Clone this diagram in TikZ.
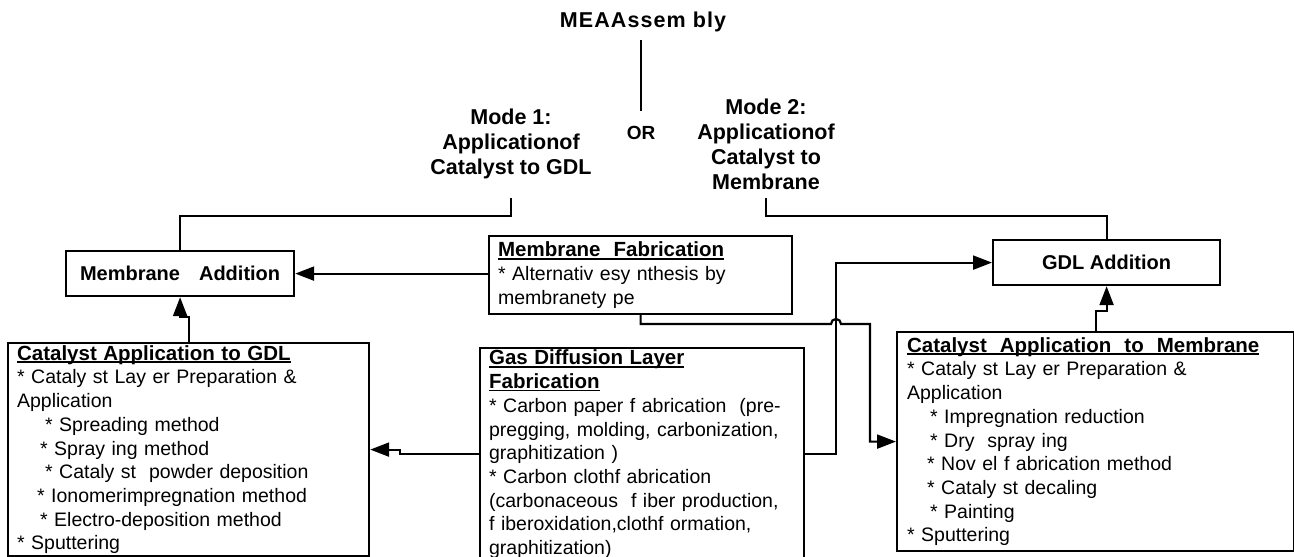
\documentclass[tikz,border=0pt]{standalone}
\usepackage{fontspec}
\setmainfont{Liberation Sans}
\usetikzlibrary{arrows.meta}
\newcommand{\lineitem}[1]{\mbox{#1}}
\newcommand{\ulin}[1]{\setbox0\hbox{#1}\rlap{\rule[-2.8pt]{\wd0}{1.6pt}}\box0}
\newcommand{\ttl}[1]{{\fontsize{20.5}{23.7}\selectfont\bfseries\ulin{#1}}}
\begin{document}
\begin{tikzpicture}[x=1pt,y=-1pt,
  box/.style={draw, line width=2.2pt, anchor=north west, align=left, inner xsep=9pt, inner ysep=2pt, font=\fontsize{19.5}{23.7}\selectfont},
  smallbox/.style={draw, line width=2.2pt, anchor=north west, font=\bfseries\fontsize{20}{24}\selectfont, inner sep=0pt},
  lbl/.style={align=center, inner sep=2pt, font=\bfseries\fontsize{21.5}{25}\selectfont},
  conn/.style={line width=2.2pt},
  arr/.style={conn, -{Triangle[length=19pt,width=14pt]}}]
\useasboundingbox (0,0) rectangle (1294,557);
\fill[white] (0,0) rectangle (1294,557);

% labels
\node[lbl, font=\bfseries\fontsize{21.5}{25}\selectfont\addfontfeatures{LetterSpace=5}] (mea) at (643,22) {MEAAssem bly};
\node[lbl, font=\bfseries\fontsize{19}{23}\selectfont] (or) at (641,133) {OR};
\node[lbl] (m1) at (511,144) {Mode 1:\\Applicationof\\Catalyst to GDL};
\node[lbl] (m2) at (766,144) {Mode 2:\\Applicationof\\Catalyst to\\Membrane};

% small boxes
\node[smallbox, minimum width=228pt, minimum height=45pt] (madd) at (65,250) {Membrane\hspace{19pt}Addition};
\node[smallbox, minimum width=227pt, minimum height=45pt] (gadd) at (992,239) {GDL Addition};

% text boxes
\node[box, text width=285pt, minimum height=78pt] (mfab) at (488,235) {%
\lineitem{\ttl{Membrane\ \ Fabrication}}\\
\lineitem{* Alternativ esy nthesis by}\\
\lineitem{membranety pe}};

\node[box, text width=306pt] (gfab) at (479,347) {%
\lineitem{\ttl{Gas Diffusion Layer}}\\
\lineitem{\ttl{Fabrication}}\\
\lineitem{* Carbon paper f abrication\ \ (pre-}\\
\lineitem{pregging, molding, carbonization,}\\
\lineitem{graphitization )}\\
\lineitem{* Carbon clothf abrication}\\
\lineitem{(carbonaceous\ \ f iber production,}\\
\lineitem{f iberoxidation,clothf ormation,}\\
\lineitem{graphitization)}};

\node[box, text width=343pt, minimum height=213pt] (cgdl) at (7,342) {%
\lineitem{\ttl{Catalyst Application to GDL}}\\
\lineitem{* Cataly st Lay er Preparation \&}\\
\lineitem{Application}\\
\lineitem{\hspace*{28pt}* Spreading method}\\
\lineitem{\hspace*{23pt}* Spray ing method}\\
\lineitem{\hspace*{28pt}* Cataly st\ \ powder deposition}\\
\lineitem{\hspace*{20pt}* Ionomerimpregnation method}\\
\lineitem{\hspace*{23pt}* Electro-deposition method}\\
\lineitem{* Sputtering}};

\node[box, text width=377pt, inner xsep=10pt, minimum height=219pt] (cmem) at (896,331) {%
\lineitem{\ttl{Catalyst\ \ Application\ \ to\ \ Membrane}}\\
\lineitem{* Cataly st Lay er Preparation \&}\\
\lineitem{Application}\\
\lineitem{\hspace*{23pt}* Impregnation reduction}\\
\lineitem{\hspace*{23pt}* Dry\ \ spray ing}\\
\lineitem{\hspace*{20pt}* Nov el f abrication method}\\
\lineitem{\hspace*{20pt}* Cataly st decaling}\\
\lineitem{\hspace*{23pt}* Painting}\\
\lineitem{* Sputtering}};

% junction coordinates
\coordinate (jx) at (836,324);
\coordinate (jy) at (870,324);

% connectors
\draw[conn] (mea.south -| or.north) ++(0,6) -- ([yshift=13.5pt]or.north);
\draw[conn] (m1.south) ++(0,17) -- ++(0,18) -| (madd.north);
\draw[conn] (m2.south) ++(0,6.5) -- ++(0,18) -| (gadd.north);
\draw[arr] (mfab.west |- madd.east) -- (madd.east);
\draw[arr] (mfab.south) |- ([xshift=-5pt]jx) arc[start angle=180, end angle=0, radius=5pt] -- (jy) |- (cmem.west);
\draw[arr] (gfab.east) -| (jx |- gadd.west) -- (gadd.west);
\draw[arr] (gfab.west) -- ++(-79,0) |- (cgdl.east);
\draw[arr] (cgdl.north) -- ++(0,-25) -| (madd.south);
\draw[arr] (cmem.north) -- ++(0,-20) -| (gadd.south);
\end{tikzpicture}
\end{document}
